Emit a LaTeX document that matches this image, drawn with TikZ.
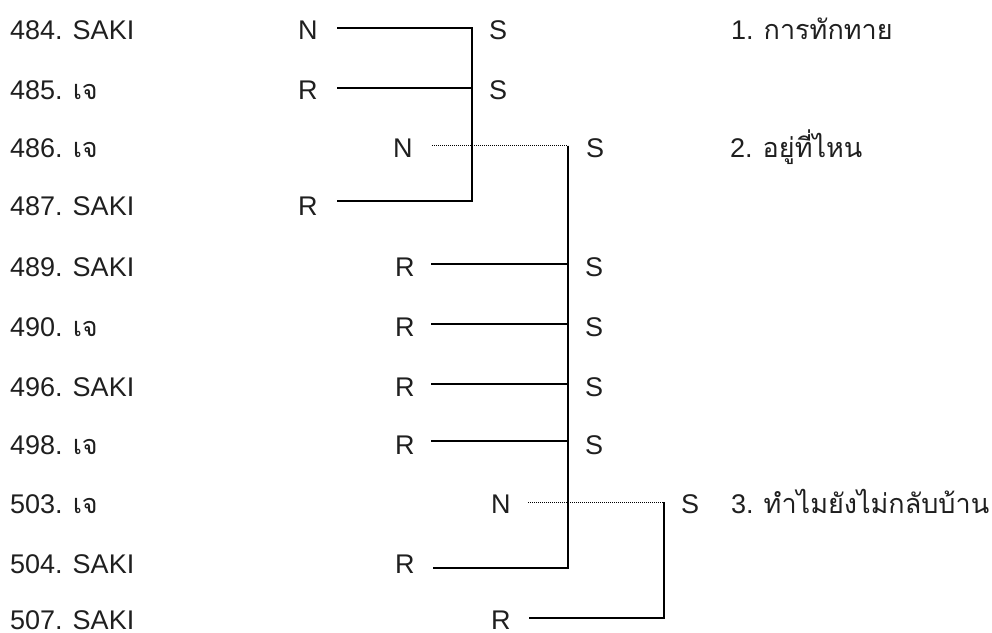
\documentclass[tikz,border=0pt]{standalone}
\usepackage{fontspec}
\setmainfont{Liberation Sans}
\newfontfamily\thaifont[Script=Thai]{Loma}
\begin{document}
\begin{tikzpicture}[x=1bp,y=-1bp,
  lbl/.style={anchor=base west, inner sep=0pt, text=black!88,
    font=\fontsize{27bp}{32bp}\selectfont},
  solidln/.style={line width=1.6bp, black},
  dotln/.style={line width=1bp, black, dash pattern=on 1bp off 1bp}]
\path[use as bounding box] (0,0) rectangle (992,633);
% left column
\node[lbl] (t484) at (10,40)  {484. SAKI};
\node[lbl] (t485) at (10,100) {485. {\thaifont เจ}};
\node[lbl] (t486) at (10,157.5) {486. {\thaifont เจ}};
\node[lbl] (t487) at (10,216) {487. SAKI};
\node[lbl] (t489) at (10,276.5) {489. SAKI};
\node[lbl] (t490) at (10,336.5) {490. {\thaifont เจ}};
\node[lbl] (t496) at (10,396.5) {496. SAKI};
\node[lbl] (t498) at (10,454) {498. {\thaifont เจ}};
\node[lbl] (t503) at (10,513) {503. {\thaifont เจ}};
\node[lbl] (t504) at (10,573) {504. SAKI};
\node[lbl, text depth=0pt] (t507) at (10,629) {507. SAKI};
% move letters
\node[lbl] (a484) at (298,40)  {N};
\node[lbl] (a485) at (298,100) {R};
\node[lbl] (a486) at (393,157.5) {N};
\node[lbl] (a487) at (298,216) {R};
\node[lbl] (a489) at (395,276.5) {R};
\node[lbl] (a490) at (395,336.5) {R};
\node[lbl] (a496) at (395,396.5) {R};
\node[lbl] (a498) at (395,454) {R};
\node[lbl] (a503) at (491,513) {N};
\node[lbl] (a504) at (395,573) {R};
\node[lbl, text depth=0pt] (a507) at (491,629) {R};
% S letters
\node[lbl] (b484) at (489,40)  {S};
\node[lbl] (b485) at (489,100) {S};
\node[lbl] (b486) at (586,157.5) {S};
\node[lbl] (b489) at (585,276.5) {S};
\node[lbl] (b490) at (585,336.5) {S};
\node[lbl] (b496) at (585,396.5) {S};
\node[lbl] (b498) at (585,454) {S};
\node[lbl] (b503) at (681,513) {S};
% topics
\node[lbl] (c1) at (731,40)  {1. {\thaifont การทักทาย}};
\node[lbl] (c2) at (730,157.5) {2. {\thaifont อยู่ที่ไหน}};
\node[lbl] (c3) at (731,513) {3. {\thaifont ทำไมยังไม่กลับบ้าน}};
% connector points
\coordinate (p484) at (337,28);  \coordinate (q484) at (472,28);
\coordinate (p485) at (337,88);  \coordinate (q485) at (472,88);
\coordinate (p487) at (337,201); \coordinate (q487) at (472,201);
\coordinate (p486) at (432,146); \coordinate (q486) at (568,146);
\coordinate (p489) at (431,264); \coordinate (q489) at (568,264);
\coordinate (p490) at (431,324); \coordinate (q490) at (568,324);
\coordinate (p496) at (431,384); \coordinate (q496) at (568,384);
\coordinate (p498) at (431,441); \coordinate (q498) at (568,441);
\coordinate (p504) at (433,568); \coordinate (q504) at (568,568);
\coordinate (p503) at (528,502); \coordinate (q503) at (664,502);
\coordinate (p507) at (529,618); \coordinate (q507) at (664,618);
% connectors
\draw[solidln] (p484) -- (q484) -- (q487) -- (p487);
\draw[solidln] (p485) -- (q485);
\draw[dotln] (p486) -- (q486);
\draw[solidln] (q486) -- (q504) -- (p504);
\draw[solidln] (p489) -- (q489);
\draw[solidln] (p490) -- (q490);
\draw[solidln] (p496) -- (q496);
\draw[solidln] (p498) -- (q498);
\draw[dotln] (p503) -- (q503);
\draw[solidln] (q503) -- (q507) -- (p507);
\end{tikzpicture}
\end{document}
